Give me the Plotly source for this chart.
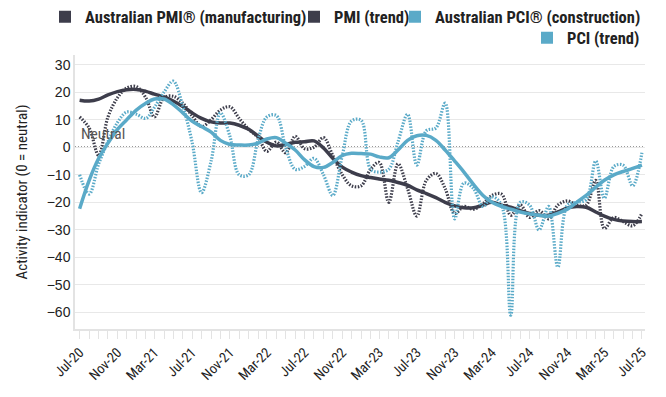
import pandas as pd
import plotly.graph_objects as go

months = pd.date_range("2020-07-01", periods=61, freq="MS")

pmi = [11, 7, -3, 11, 18, 21.5, 22, 18, 11, 18, 18.5, 16, 11.5, 7.5, 10, 13.5, 14.7, 10.5, 6.5, 3.5,
       -1.5, 1.9, -2, 4, -0.5, 0, 3.5, -3, -10, -14, -14, -8, -5.5, -20, -6, -15, -25, -12, -9.5, -15,
       -24, -21.5, -22.5, -20.5, -17.5, -17, -24.7, -21, -25.5, -23, -26, -21, -19.5, -21, -21, -12,
       -29.5, -25.5, -27, -28.5, -24]
pmi_trend = [17.1, 16.8, 17.5, 19, 20.2, 20.9, 21, 20.3, 19.3, 18.3, 16.8, 14.8, 12.5, 10.5, 9.2, 8.8,
             8.8, 8, 6.5, 4, 1.8, 0.5, 1, 1.8, 2, 2.3, -0.3, -4, -7.2, -9, -10.3, -11, -11.5, -12, -12.8,
             -13.8, -15.5, -16.8, -18.3, -20, -21.3, -22, -22, -21, -20, -21, -21.8, -23, -24, -24.7,
             -24.7, -23.5, -22, -21.5, -21.8, -23.5, -25, -26.2, -26.8, -27, -27]
pci = [-10, -17, -6, 2, 9, 12.8, 12, 10.5, 14.5, 20, 24, 15, 2, -16.5, -5, 12.5, 4, -10, -10, 3,
       11, 11.5, 0, -8, -7, -4, -10, -17.5, -3, 9.5, 9.8, -8, -9, -8, 2, 12, -6.5, 6, 7, 16,
       -26, -13, -15, -21.5, -18, -21, -61, -20, -21, -30, -21.5, -43.5, -21, -20, -19, -5, -18.5,
       -7, -6.5, -14, -2]
pci_trend = [-22.3, -12, -4, 1.5, 6.5, 10, 13.5, 16, 17.5, 17.5, 15.5, 12.5, 9.5, 7.5, 5.5, 2.5, 1,
             0.8, 0.8, 1.5, 3, 3.5, 1.5, -1, -4.5, -7, -7.3, -5.5, -3, -2.2, -2.3, -2.5, -3.5, -3.8,
             -1, 2.5, 4.2, 4.3, 2.5, -1, -5, -9, -13.5, -17.5, -20, -21.5, -22.5, -23.5, -24.2, -24.7,
             -25, -24, -22.5, -20, -17.5, -14.5, -12, -10, -8.8, -7.7, -6.5]

names = ["Australian PMI® (manufacturing)", "PMI (trend)", "Australian PCI® (construction)", "PCI (trend)"]
y_ticks = [30, 20, 10, 0, -10, -20, -30, -40, -50, -60]

DARK = "#3d3d4b"
BLUE = "#5aaac8"
NARROW = "Liberation Sans Narrow, Roboto Condensed, Arial Narrow, sans-serif"
SANS = "Liberation Sans, Arial, sans-serif"

tick_dates = months[::4]
tick_text = [d.strftime("%b-%y") for d in tick_dates]

fig = go.Figure()
series = [(pmi, DARK, "1.5px,1.5px", 3.2), (pmi_trend, DARK, "solid", 3.5),
          (pci, BLUE, "1.5px,1.5px", 3.2), (pci_trend, BLUE, "solid", 3.5)]
for (vals, col, dash, w) in series:
    fig.add_trace(go.Scatter(x=months, y=vals, mode="lines", showlegend=False,
                             line=dict(color=col, width=w, dash=dash, shape="spline", smoothing=1),
                             hoverinfo="skip"))

# legend entries (square markers), each in its own legend for placement
legend_ids = ["legend", "legend2", "legend3", "legend4"]
legend_text_x = [88, 337, 438, 570]
legend_row_y = [17, 17, 17, 38]
for nm, col, lid in zip(names, [DARK, DARK, BLUE, BLUE], legend_ids):
    fig.add_trace(go.Scatter(x=[None], y=[None], mode="markers", name=nm,
                             marker=dict(symbol="square", size=12, color=col),
                             legend=lid))

fig.add_hline(y=0, line=dict(color="#333", width=1.5, dash="1px,2px"), layer="below")
fig.add_annotation(x=months[0], y=0, xref="x", yref="y", text="Neutral", showarrow=False,
                   xanchor="left", yanchor="bottom", xshift=-1, yshift=2,
                   font=dict(family=NARROW, size=15.5, color="#555"))

layout = dict(
    width=666, height=397,
    margin=dict(l=75, r=21, t=55, b=68, autoexpand=False),
    paper_bgcolor="white", plot_bgcolor="white",
    font=dict(family=NARROW, size=14, color="#222"),
    xaxis=dict(type="date", range=["2020-06-16", "2025-07-11"],
               tickvals=list(tick_dates), ticktext=tick_text, tickangle=-45,
               ticks="outside", ticklen=8, tickcolor="#e3e3e3", showgrid=False,
               showline=True, linecolor="#e3e3e3", linewidth=1.5,
               minor=dict(dtick="M1", ticks="outside", ticklen=8, tickcolor="#e3e3e3", showgrid=False),
               tickfont=dict(family=NARROW, size=14, color="#222")),
    yaxis=dict(range=[-66, 33.5], tickvals=y_ticks,
               showgrid=True, gridcolor="#e8e8e8", gridwidth=1, zeroline=False,
               showline=True, linecolor="#e3e3e3", linewidth=1.5,
               title=dict(text="Activity indicator (0 = neutral)", standoff=15,
                          font=dict(family=NARROW, size=15, color="#222")),
               tickfont=dict(family=SANS, size=14, color="#222")),
)
for lid, tx, ry in zip(legend_ids, legend_text_x, legend_row_y):
    layout[lid] = dict(orientation="h", xref="container", yref="container",
                       x=(tx - 43) / 666, xanchor="left",
                       y=1 - ry / 397, yanchor="middle",
                       font=dict(family=NARROW, size=16.5, color="#222", weight="bold"),
                       itemwidth=30, bgcolor="rgba(0,0,0,0)", borderwidth=0)
fig.update_layout(**layout)

fig.write_html("out.html", config={"displayModeBar": False},
               post_script="document.body.style.margin='0';")
